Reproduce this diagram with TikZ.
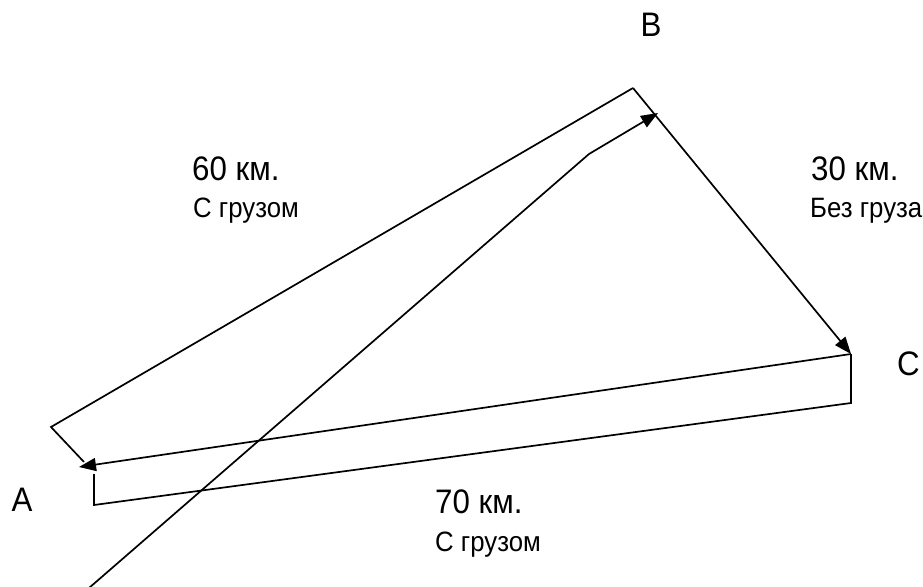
\documentclass[tikz,border=0pt]{standalone}
\usepackage{fontspec}
\setmainfont{Liberation Sans}
\newfontfamily\narrowf[FakeStretch=0.92]{Liberation Sans}
\usetikzlibrary{arrows.meta}
\begin{document}
\begin{tikzpicture}[x=1pt,y=-1pt,
  ln/.style={line width=1.7pt, line join=miter},
  arr/.style={ln, -{Triangle[length=17pt,width=13pt]}},
  big/.style={font=\narrowf\fontsize{34}{40}\selectfont, inner sep=0pt},
  km/.style={font=\narrowf\fontsize{34}{40}\selectfont, inner sep=0pt, anchor=base west},
  sub/.style={font=\narrowf\fontsize{28}{33}\selectfont, inner sep=0pt, anchor=base west}]
\useasboundingbox (0,0) rectangle (923,586);
% corners
\coordinate (Aup) at (51,427);
\coordinate (Bc) at (633,88);
\coordinate (Ctop) at (851,354);
\coordinate (Atip) at (79,467);
\coordinate (Ajoin) at (84,462);
\coordinate (Ab1) at (94,474);
\coordinate (Ab2) at (94,505);
\coordinate (Cb) at (851,403);
\coordinate (Dstart) at (89,588);
\coordinate (Dk) at (589,154);
\coordinate (Dtip) at (658,113);
% route A-B-C
\draw[ln] (Ajoin) -- (Aup) -- (Bc);
\draw[arr] (Bc) -- (Ctop);
% route C-A
\draw[arr] (Ctop) -- (Atip);
\draw[ln] (Ab1) -- (Ab2) -- (Cb) -- (Ctop);
% diagonal
\draw[arr] (Dstart) -- (Dk) -- (Dtip);
% letters
\node[big] (B) at (651,25) {B};
\node[big] (A) at (22,500) {A};
\node[big, anchor=west] (C) at (897,364) {C};
% labels
\node[km] (L1a) at (192,180) {60 км.};
\node[sub] (L1b) at (193,217) {С грузом};
\node[km] (L2a) at (811,180) {30 км.};
\node[sub] (L2b) at (810,217) {Без груза};
\node[km] (L3a) at (435,513) {70 км.};
\node[sub] (L3b) at (435,551) {С грузом};
\end{tikzpicture}
\end{document}
